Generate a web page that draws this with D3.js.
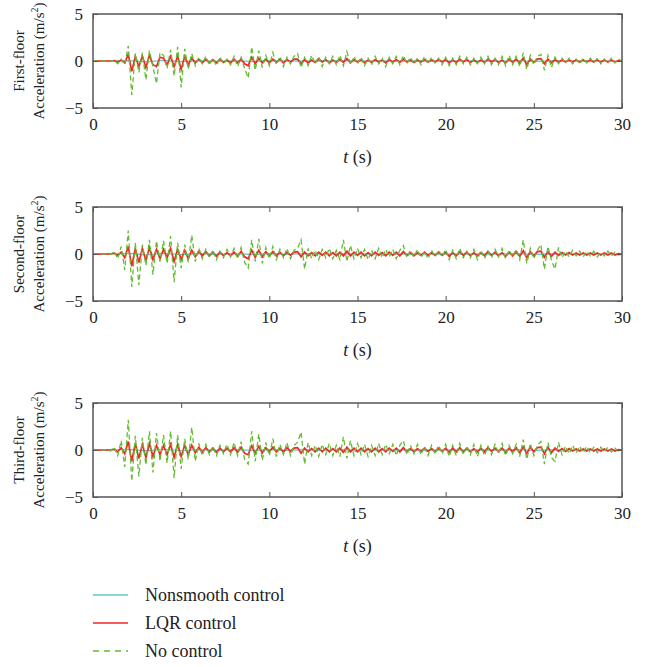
<!DOCTYPE html>
<html>
<head>
<meta charset="utf-8">
<script src="https://cdn.jsdelivr.net/npm/d3@7"></script>
<style>
  body { margin: 0; background: #fff; }
  text { font-family: "Liberation Serif", "DejaVu Serif", serif; fill: #222; }
</style>
</head>
<body>
<div id="chart"></div>
<script>
// sample step of the response curves (s)
var dt = 0.2;
var dtNs = 1.0;

var xTicks = [0, 5, 10, 15, 20, 25, 30];
var yTicks = [-5, 0, 5];
var floorNames = ["First-floor", "Second-floor", "Third-floor"];
var seriesNames = ["Nonsmooth control", "LQR control", "No control"];

// No control, floor 1
var noCtl1 = [
  0, 0, 0, 0, 0.05, -0.05, 0.1, -0.3, 0.2, -0.4,
  1.6, -3.6, 0.8, -1.2, 0.9, -2.0, 1.1, -0.6, -2.4, 0.9,
  0.6, -0.8, 1.2, -1.6, 1.5, -2.8, 1.3, -0.9, 0.8, -0.5,
  0.4, -0.3, 0.5, -0.4, 0.3, -0.5, 0.4, -0.3, 0.2, -0.4,
  0.5, -0.6, 0.4, -0.8, -1.8, 1.5, -1.0, 1.1, -0.7, 0.6,
  -0.5, 0.9, -0.4, 0.5, -0.6, 0.4, -0.3, 0.5, 0.8, -0.7,
  0.4, -0.5, 0.6, -0.3, 0.5, -0.6, 0.4, -0.3, 0.5, -0.4,
  0.6, -0.5, 1.0, -0.4, 0.5, -0.3, 0.4, -0.5, 0.3, -0.4,
  0.5, -0.3, 0.3, -0.6, 0.4, -0.3, 0.5, -0.4, 0.6, -0.3,
  0.4, -0.3, 0.3, -0.4, 0.5, -0.3, 0.4, -0.2, 0.3, -0.4,
  0.4, -0.5, 0.3, -0.4, 0.5, -0.3, 0.4, -0.4, 0.3, -0.3,
  0.4, -0.3, 0.5, -0.4, 0.3, -0.4, 0.5, -0.5, 0.6, -0.4,
  0.5, -0.6, 0.9, -0.9, 0.6, -0.4, 0.5, 0.7, -1.0, 0.6,
  -0.7, 0.4, -0.3, 0.3, -0.2, 0.3, -0.3, 0.2, -0.3, 0.3,
  -0.2, 0.3, -0.2, 0.3, -0.3, 0.2, -0.2, 0.3, -0.2, 0.2, 0
];
// No control, floor 2
var noCtl2 = [
  0, 0, 0, 0, 0.05, -0.05, 0.3, -0.5, 0.8, -1.7,
  2.5, -3.5, 1.2, -3.3, 1.0, -1.2, 1.5, -2.2, 1.4, -0.8,
  1.4, -1.0, 1.9, -3.0, 1.2, -1.5, 1.0, -0.9, 2.0, -0.8,
  0.6, -0.5, 0.5, -0.4, 0.4, -0.6, 0.3, -0.4, 0.5, -0.3,
  0.6, -0.5, 0.7, -0.9, -1.5, 1.5, -0.8, 1.6, -1.0, 0.7,
  -0.5, 0.8, -0.6, 0.5, -0.4, 0.6, -0.5, 0.4, 0.6, 1.5,
  -1.6, 0.6, -0.5, 0.4, -0.6, 0.5, -0.4, 0.6, -0.5, 0.4,
  -0.6, 1.5, -0.8, 0.9, -0.5, 0.6, -0.4, 0.5, -0.6, 0.4,
  -0.5, 0.6, -0.4, 0.5, -0.3, 0.5, -0.5, 0.4, 0.9, -0.4,
  0.4, -0.3, 0.5, -0.4, 0.3, -0.5, 0.4, -0.3, 0.4, -0.3,
  0.5, -0.6, 0.4, -0.5, 0.6, -0.4, 0.3, -0.4, 0.5, -0.6,
  0.4, -0.5, 0.3, -0.4, 0.5, -0.3, 0.6, -0.5, 0.4, -0.3,
  0.5, -0.6, 1.5, -1.0, 0.6, -0.5, 0.4, 1.0, -1.6, 0.8,
  -0.7, -1.6, 0.7, -0.4, 0.3, -0.3, 0.4, -0.2, 0.3, -0.3,
  0.3, -0.2, 0.3, -0.3, 0.2, -0.2, 0.3, -0.2, 0.2, -0.1, 0
];
// No control, floor 3
var noCtl3 = [
  0, 0, 0, 0, 0.05, -0.1, 0.3, -0.6, 1.0, -1.8,
  3.2, -3.3, 1.5, -2.8, 1.3, -1.6, 2.0, -2.4, 1.8, -1.2,
  1.6, -1.4, 2.0, -3.0, 1.6, -2.0, 1.2, -1.0, 2.4, -1.2,
  0.7, -0.6, 0.6, -0.5, 0.4, -0.6, 0.5, -0.4, 0.6, -0.5,
  0.8, -0.6, 0.9, -1.0, -1.5, 2.0, -1.2, 1.7, -1.1, 0.8,
  -0.6, 1.2, -0.7, 0.6, -0.5, 0.8, -0.6, 0.5, 0.8, 1.9,
  -1.5, 0.8, -0.6, 0.5, -0.7, 0.6, -0.5, 0.7, -0.6, 0.5,
  -0.7, 1.4, -0.9, 1.0, -0.6, 0.7, -0.5, 0.6, -0.7, 0.5,
  -0.6, 0.7, -0.5, 0.6, -0.4, 0.6, -0.6, 0.5, 1.0, -0.5,
  0.5, -0.4, 0.6, -0.5, 0.4, -0.6, 0.5, -0.4, 0.5, -0.4,
  0.6, -0.7, 0.5, -0.6, 0.7, -0.5, 0.4, -0.5, 0.6, -0.7,
  0.5, -0.6, 0.4, -0.5, 0.6, -0.4, 0.7, -0.6, 0.5, -0.4,
  0.6, -0.7, 1.1, -1.0, 0.7, -0.6, 0.5, 0.9, -1.5, 0.8,
  -0.8, -1.2, 0.8, -0.5, 0.4, -0.4, 0.5, -0.3, 0.4, -0.3,
  0.4, -0.3, 0.3, -0.3, 0.3, -0.2, 0.3, -0.2, 0.2, -0.1, 0
];

// LQR control
var lqr1 = [
  0, 0, 0, 0, 0, 0, 0.05, -0.1, 0.1, -0.2,
  0.7, -1.1, 0.5, -0.6, 0.5, -0.7, 0.6, -0.4, -0.6, 0.4,
  0.3, -0.4, 0.5, -0.6, 0.5, -0.9, 0.5, -0.4, 0.3, -0.2,
  0.2, -0.2, 0.2, -0.2, 0.15, -0.2, 0.2, -0.15, 0.1, -0.2,
  0.2, -0.2, 0.2, -0.3, -0.5, 0.4, -0.3, 0.3, -0.2, 0.2,
  -0.2, 0.2, -0.15, 0.2, -0.2, 0.15, -0.1, 0.2, 0.2, -0.3,
  0.15, -0.2, 0.1, -0.15, 0.2, -0.1, 0.15, -0.2, 0.1, -0.15,
  0.2, -0.15, 0.25, -0.2, 0.15, -0.1, 0.15, -0.2, 0.1, -0.15,
  0.15, -0.1, 0.1, -0.2, 0.15, -0.1, 0.15, -0.15, 0.2, -0.1,
  0.1, -0.15, 0.1, -0.1, 0.15, -0.1, 0.1, -0.1, 0.15, -0.1,
  0.15, -0.2, 0.1, -0.15, 0.2, -0.1, 0.15, -0.15, 0.1, -0.15,
  0.1, -0.15, 0.2, -0.1, 0.15, -0.15, 0.1, -0.2, 0.2, -0.15,
  0.2, -0.2, 0.3, -0.4, 0.2, -0.15, 0.2, 0.25, -0.3, 0.2,
  -0.2, 0.15, -0.1, 0.1, -0.1, 0.1, -0.1, 0.1, -0.1, 0.1,
  -0.1, 0.1, -0.1, 0.1, -0.1, 0.1, -0.1, 0.1, -0.1, 0.05, 0
];
var lqr2 = [
  0, 0, 0, 0, 0, 0, 0.1, -0.15, 0.2, -0.4,
  0.8, -1.3, 0.6, -0.9, 0.6, -0.7, 0.7, -0.6, 0.5, -0.5,
  0.5, -0.4, 0.6, -0.8, 0.5, -0.6, 0.4, -0.5, 0.4, -0.3,
  0.3, -0.2, 0.25, -0.2, 0.2, -0.25, 0.2, -0.2, 0.15, -0.2,
  0.2, -0.25, 0.3, -0.3, -0.5, 0.4, -0.35, 0.4, -0.3, 0.25,
  -0.2, 0.25, -0.2, 0.2, -0.2, 0.2, -0.15, 0.2, 0.25, -0.3,
  0.2, -0.2, 0.15, -0.2, 0.2, -0.15, 0.2, -0.2, 0.15, -0.2,
  0.2, -0.2, 0.3, -0.2, 0.2, -0.15, 0.2, -0.2, 0.15, -0.2,
  0.2, -0.15, 0.15, -0.2, 0.2, -0.15, 0.2, -0.2, 0.25, -0.15,
  0.15, -0.2, 0.15, -0.15, 0.2, -0.15, 0.15, -0.15, 0.2, -0.15,
  0.2, -0.25, 0.15, -0.2, 0.25, -0.15, 0.2, -0.2, 0.15, -0.2,
  0.15, -0.2, 0.25, -0.15, 0.2, -0.2, 0.15, -0.25, 0.2, -0.2,
  0.25, -0.25, 0.35, -0.4, 0.25, -0.2, 0.25, 0.3, -0.35, 0.25,
  -0.25, 0.2, -0.15, 0.15, -0.1, 0.15, -0.1, 0.1, -0.1, 0.1,
  -0.1, 0.1, -0.1, 0.1, -0.1, 0.1, -0.1, 0.1, -0.1, 0.05, 0
];
var lqr3 = [
  0, 0, 0, 0, 0, 0, 0.1, -0.2, 0.25, -0.4,
  0.9, -1.2, 0.7, -0.9, 0.6, -0.8, 0.7, -0.7, 0.5, -0.5,
  0.5, -0.5, 0.6, -0.8, 0.6, -0.7, 0.5, -0.5, 0.5, -0.3,
  0.3, -0.25, 0.25, -0.2, 0.2, -0.25, 0.2, -0.2, 0.2, -0.2,
  0.25, -0.25, 0.3, -0.35, -0.5, 0.45, -0.35, 0.4, -0.3, 0.25,
  -0.2, 0.3, -0.2, 0.2, -0.2, 0.25, -0.15, 0.2, 0.25, -0.35,
  0.2, -0.2, 0.15, -0.2, 0.2, -0.2, 0.2, -0.2, 0.15, -0.2,
  0.2, -0.25, 0.3, -0.2, 0.2, -0.2, 0.2, -0.2, 0.15, -0.2,
  0.2, -0.2, 0.15, -0.2, 0.2, -0.15, 0.2, -0.2, 0.25, -0.2,
  0.15, -0.2, 0.15, -0.15, 0.2, -0.15, 0.15, -0.2, 0.2, -0.15,
  0.2, -0.25, 0.2, -0.2, 0.25, -0.2, 0.2, -0.2, 0.15, -0.2,
  0.2, -0.2, 0.25, -0.15, 0.2, -0.2, 0.2, -0.25, 0.2, -0.2,
  0.25, -0.3, 0.35, -0.4, 0.3, -0.2, 0.25, 0.3, -0.4, 0.3,
  -0.3, 0.2, -0.15, 0.15, -0.15, 0.15, -0.1, 0.1, -0.1, 0.1,
  -0.1, 0.1, -0.1, 0.1, -0.1, 0.1, -0.1, 0.1, -0.1, 0.05, 0
];

// Nonsmooth control (1 s samples)
var ns1 = [0, 0, 0.05, -0.08, 0.06, -0.06, 0.03, -0.03, 0.02, -0.04, 0.03, -0.02, 0.02, -0.02, 0.03, -0.02,
  0.02, -0.02, 0.02, -0.01, 0.02, -0.02, 0.01, -0.02, 0.03, -0.03, 0.02, -0.01, 0.01, -0.01, 0];
var ns2 = [0, 0, 0.06, -0.1, 0.08, -0.07, 0.04, -0.03, 0.03, -0.05, 0.03, -0.03, 0.03, -0.02, 0.03, -0.02,
  0.02, -0.02, 0.02, -0.02, 0.02, -0.02, 0.02, -0.02, 0.03, -0.03, 0.02, -0.01, 0.01, -0.01, 0];
var ns3 = [0, 0, 0.07, -0.1, 0.08, -0.08, 0.04, -0.04, 0.03, -0.05, 0.04, -0.03, 0.03, -0.03, 0.03, -0.02,
  0.02, -0.02, 0.02, -0.02, 0.02, -0.02, 0.02, -0.02, 0.03, -0.03, 0.02, -0.02, 0.01, -0.01, 0];

var noCtl = [noCtl1, noCtl2, noCtl3];
var lqr = [lqr1, lqr2, lqr3];
var ns = [ns1, ns2, ns3];

var colors = ["#5cc6d0", "#f52525", "#66bb33"];

var W = 651, H = 667;
var left = 93, right = 622;
var panelTop = [14, 207, 403];
var panelH = 94;

var svg = d3.select("#chart")
  .append("svg")
  .attr("width", W)
  .attr("height", H);

var x = d3.scaleLinear().domain([0, 30]).range([left, right]);

floorNames.forEach(function (name, k) {
  var top = panelTop[k];
  var y = d3.scaleLinear().domain([-5, 5]).range([top + panelH, top]);

  var line = function (step) {
    return d3.line()
      .x(function (d, i) { return x(i * step); })
      .y(function (d) { return y(d); });
  };

  var g = svg.append("g");

  // curves
  g.append("path")
    .datum(ns[k])
    .attr("d", line(dtNs))
    .attr("fill", "none")
    .attr("stroke", colors[0])
    .attr("stroke-width", 1.2);

  g.append("path")
    .datum(lqr[k])
    .attr("d", line(dt))
    .attr("fill", "none")
    .attr("stroke", colors[1])
    .attr("stroke-width", 1.7);

  g.append("path")
    .datum(noCtl[k])
    .attr("d", line(dt))
    .attr("fill", "none")
    .attr("stroke", colors[2])
    .attr("stroke-width", 1.3)
    .attr("stroke-dasharray", "5,3");

  // box axes, ticks pointing inward
  var axisColor = "#555";
  g.append("g")
    .attr("transform", "translate(0," + (top + panelH) + ")")
    .call(d3.axisBottom(x).tickValues(xTicks).tickSize(-5).tickPadding(10).tickFormat(d3.format("d")))
    .call(function (a) {
      a.select(".domain").remove();
      a.selectAll("line").attr("stroke", axisColor);
      a.selectAll("text").attr("font-size", 17).attr("fill", "#222")
        .attr("font-family", "Liberation Serif, serif");
    });
  g.append("g")
    .attr("transform", "translate(0," + top + ")")
    .call(d3.axisTop(x).tickValues(xTicks).tickSize(-5).tickFormat(""))
    .call(function (a) {
      a.select(".domain").remove();
      a.selectAll("line").attr("stroke", axisColor);
    });
  g.append("g")
    .attr("transform", "translate(" + left + ",0)")
    .call(d3.axisLeft(y).tickValues(yTicks).tickSize(-5).tickPadding(10)
      .tickFormat(function (d) { return d < 0 ? "\u2212" + Math.abs(d) : d; }))
    .call(function (a) {
      a.select(".domain").remove();
      a.selectAll("line").attr("stroke", axisColor);
      a.selectAll("text").attr("font-size", 17).attr("fill", "#222")
        .attr("font-family", "Liberation Serif, serif");
    });
  g.append("g")
    .attr("transform", "translate(" + right + ",0)")
    .call(d3.axisRight(y).tickValues(yTicks).tickSize(-5).tickFormat(""))
    .call(function (a) {
      a.select(".domain").remove();
      a.selectAll("line").attr("stroke", axisColor);
    });
  g.append("rect")
    .attr("x", left)
    .attr("y", top)
    .attr("width", right - left)
    .attr("height", panelH)
    .attr("fill", "none")
    .attr("stroke", axisColor)
    .attr("stroke-width", 1.5);

  // y label, two lines
  var cy = top + panelH / 2;
  g.append("text")
    .attr("transform", "translate(24," + cy + ")rotate(-90)")
    .attr("text-anchor", "middle")
    .style("font-size", "15px")
    .text(name);
  var yl = g.append("text")
    .attr("transform", "translate(44," + cy + ")rotate(-90)")
    .attr("text-anchor", "middle")
    .style("font-size", "15px");
  yl.append("tspan").text("Acceleration (m/s");
  yl.append("tspan").attr("dy", -6).style("font-size", "10px").text("2");
  yl.append("tspan").attr("dy", 6).text(")");

  // x label
  var xl = g.append("text")
    .attr("x", (left + right) / 2)
    .attr("y", top + panelH + 55)
    .attr("text-anchor", "middle")
    .style("font-size", "18px");
  xl.append("tspan").style("font-style", "italic").text("t");
  xl.append("tspan").text(" (s)");
});

// legend
var legY = [595, 623, 651];
seriesNames.forEach(function (s, i) {
  svg.append("line")
    .attr("x1", 93).attr("x2", 128)
    .attr("y1", legY[i]).attr("y2", legY[i])
    .attr("stroke", colors[i])
    .attr("stroke-width", 1.3)
    .attr("stroke-dasharray", i === 2 ? "6,5" : null);
  svg.append("text")
    .attr("x", 145)
    .attr("y", legY[i] + 6)
    .style("font-size", "18px")
    .text(s);
});
</script>
</body>
</html>
